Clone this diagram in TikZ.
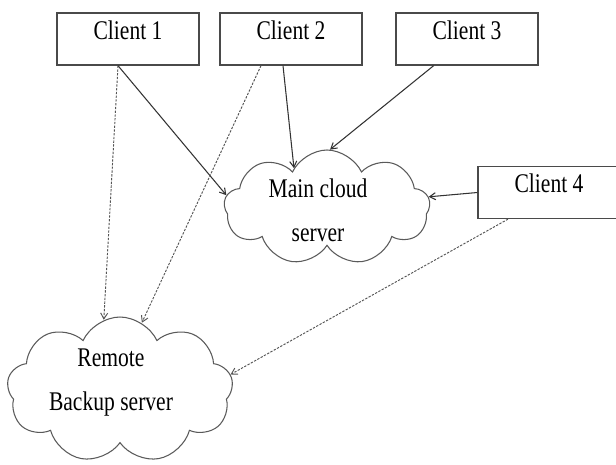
\documentclass[tikz,border=0pt]{standalone}
\usepackage{fontspec}
\setmainfont{Liberation Serif}
\usetikzlibrary{arrows.meta,shapes.symbols}
\definecolor{boxgray}{HTML}{4A4A4A}
\definecolor{linegray}{HTML}{333333}
\definecolor{cloudgray}{HTML}{5A5A5A}
\definecolor{dashgray}{HTML}{555555}
\newcommand{\lbl}[1]{\scalebox{0.8}[1]{#1}}

\begin{document}
\begin{tikzpicture}[x=0.03cm,y=-0.03cm,>={Straight Barb[length=5pt,width=6pt]},
  client/.style={draw=boxgray,line width=1.1pt,minimum width=4.26cm,minimum height=1.56cm,
    font=\fontsize{23pt}{27pt}\selectfont,text height=0.5cm,text depth=0.5cm},
  cloudy/.style={cloud,draw=cloudgray,line width=0.9pt,cloud puffs=9,cloud puff arc=130,inner sep=0pt},
  cloudtext/.style={align=center,font=\fontsize{23pt}{37.5pt}\selectfont},
  link/.style={->,draw=linegray,line width=0.9pt},
  copyline/.style={->,draw=dashgray,line width=0.8pt,dash pattern=on 2pt off 1.2pt}]
  \path[use as bounding box,fill=white] (0,0) rectangle (616,464);
  % clients
  \node[client] (c1) at (128,39) {\lbl{Client 1}};
  \node[client] (c2) at (291,39) {\lbl{Client 2}};
  \node[client] (c3) at (467,39) {\lbl{Client 3}};
  \node[client] (c4) at (549,192.5) {\lbl{Client 4}};
  % servers
  \node[cloudy,minimum width=6.18cm,minimum height=3.45cm] (main) at (327,207.5) {};
  \node[cloudtext] (maintext) at (318,210.5) {\lbl{Main cloud}\\\lbl{server}};
  \node[cloudy,minimum width=6.78cm,minimum height=4.38cm] (remote) at (120,390) {};
  \node[cloudtext] (remotetext) at (111,382.7) {\lbl{Remote}\\\lbl{Backup server}};
  % links
  \draw[link] ([xshift=-0.3cm]c1.south) -- (main.173);
  \draw[copyline] ([xshift=-0.3cm]c1.south) -- (remote.103);
  \draw[copyline] ([xshift=-0.9cm]c2.south) -- (remote.72);
  \draw[link] ([xshift=-0.24cm]c2.south) -- (main.130);
  \draw[link] ([xshift=-1cm]c3.south) -- (main.87);
  \draw[link] (c4.west) -- (main.6);
  \draw[copyline] ([xshift=-1.23cm]c4.south) -- (remote.8);
\end{tikzpicture}
\end{document}
